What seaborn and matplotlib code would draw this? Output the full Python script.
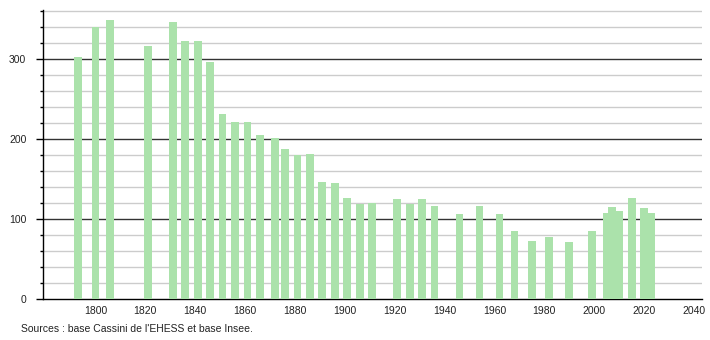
import matplotlib
matplotlib.use("Agg")
import matplotlib.pyplot as plt
import seaborn as sns
import pandas as pd
import numpy as np

years = [1793, 1800, 1806, 1821, 1831, 1836, 1841, 1846, 1851, 1856,
         1861, 1866, 1872, 1876, 1881, 1886, 1891, 1896, 1901, 1906,
         1911, 1921, 1926, 1931, 1936, 1946, 1954, 1962, 1968, 1975,
         1982, 1990, 1999, 2005, 2007, 2010, 2015, 2020, 2023]
population = [303, 340, 349, 316, 347, 323, 323, 296, 231, 221,
              221, 205, 201, 188, 180, 181, 147, 145, 127, 119,
              120, 125, 119, 125, 117, 107, 117, 107, 85, 73,
              78, 71, 85, 108, 115, 110, 126, 114, 108]
x_ticks = [1800, 1820, 1840, 1860, 1880, 1900, 1920, 1940, 1960, 1980, 2000, 2020, 2040]
y_major = [0, 100, 200, 300]
source_text = "Sources : base Cassini de l'EHESS et base Insee."

df = pd.DataFrame({"year": years, "population": population})

sns.set_theme(style="white")
plt.rcParams["font.family"] = ["Liberation Sans", "DejaVu Sans"]

fig = plt.figure(figsize=(7.1, 3.4), dpi=100)
ax = fig.add_axes([43 / 710, (340 - 299.3) / 340, (702 - 43) / 710, (299.3 - 10) / 340])

min_gap = np.min(np.diff(np.unique(years)))
bar_years = 3.1
sns.barplot(data=df, x="year", y="population", native_scale=True,
            width=bar_years / min_gap, color="#abe2ab", saturation=1,
            errorbar=None, linewidth=0, ax=ax, zorder=3)

ax.set_xlim(1779, 2043.2)
ax.set_ylim(0, 361.5)
ax.set_xticks(x_ticks)
ax.set_xticklabels([str(t) for t in x_ticks])
ax.set_yticks(y_major)
ax.set_yticks(np.arange(0, 361, 20), minor=True)
ax.set_xlabel("")
ax.set_ylabel("")

ax.grid(False)
for v in np.arange(20, 361, 20):
    if v % 100 == 0:
        ax.axhline(v, color="#333333", lw=1.0, zorder=1)
    else:
        ax.axhline(v, color="#cccccc", lw=1.0, zorder=1)

for s in ["top", "right"]:
    ax.spines[s].set_visible(False)
ax.spines["left"].set_color("black")
ax.spines["bottom"].set_color("black")
ax.spines["left"].set_linewidth(1.0)
ax.spines["bottom"].set_linewidth(1.0)

ax.tick_params(axis="y", which="major", left=True, length=5, width=1,
               color="black", labelsize=7.5, labelcolor="#222222", pad=7)
ax.tick_params(axis="y", which="minor", left=True, length=2, width=1, color="black")
ax.tick_params(axis="x", which="both", bottom=False, length=0,
               labelsize=7.5, labelcolor="#222222", pad=5)

fig.text(21 / 710, 1 - 329 / 340, source_text, fontsize=7.5, color="#222222",
         ha="left", va="center")

fig.savefig("out.png", dpi=100)
